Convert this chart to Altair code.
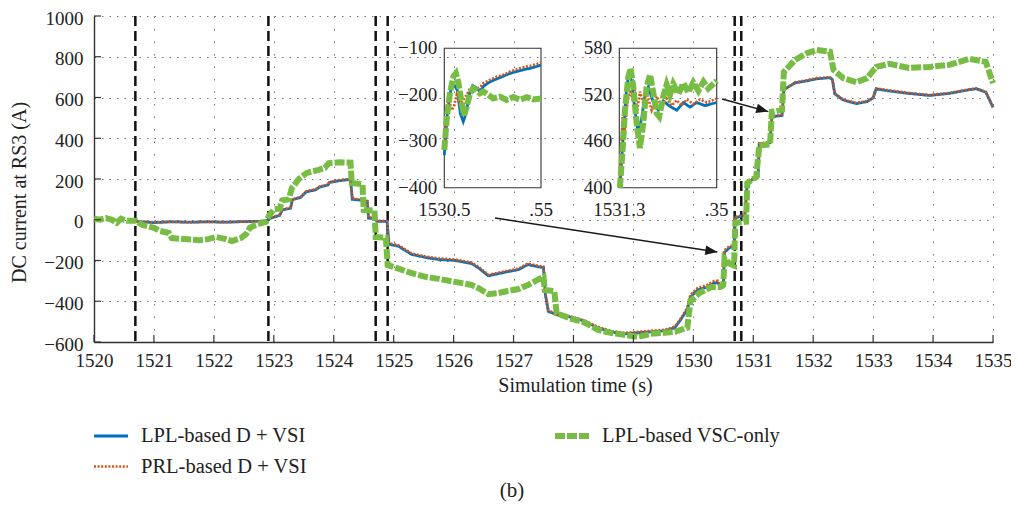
import math
import altair as alt
import pandas as pd

FONT = "Liberation Serif"

# legend order (column-major: col 1 = first two, col 2 = last)
SERIES = ["LPL-based D + VSI", "PRL-based D + VSI", "LPL-based VSC-only"]
COLORS = ["#0072BD", "#D95319", "#77BC43"]
DASHES = [[1, 0], [2, 1.6], [10, 2]]
LINE_WIDTHS = [2.8, 2.6, 6]

x_ticks = list(range(1520, 1536))
y_ticks = list(range(-600, 1001, 200))
caption = ["(b)"]

# ---- main traces ----
red_t = [1520.70, 1521.00, 1521.30, 1521.60, 1521.90, 1522.20, 1522.50, 1522.75, 1522.88, 1522.92,
         1523.10, 1523.14, 1523.28, 1523.31, 1523.45, 1523.54, 1523.70, 1523.76, 1523.90, 1523.93,
         1524.10, 1524.28, 1524.31, 1524.50, 1524.56, 1524.58, 1524.70, 1524.72, 1524.89, 1524.92,
         1525.08, 1525.30, 1525.53, 1525.75, 1526.03, 1526.30, 1526.41, 1526.58, 1526.74, 1526.90,
         1527.08, 1527.24, 1527.40, 1527.50, 1527.53, 1527.58, 1527.74, 1527.96, 1528.19, 1528.40,
         1528.62, 1528.85, 1529.07, 1529.29, 1529.52, 1529.69, 1529.79, 1529.90, 1529.95, 1530.07,
         1530.23, 1530.35, 1530.41, 1530.46, 1530.50, 1530.52, 1530.60, 1530.68, 1530.70, 1530.86,
         1530.90, 1531.03, 1531.08, 1531.10, 1531.28, 1531.31, 1531.48, 1531.51, 1531.70, 1531.90,
         1532.06, 1532.28, 1532.32, 1532.36, 1532.50, 1532.72, 1532.90, 1533.00, 1533.05, 1533.27,
         1533.60, 1533.94, 1534.27, 1534.60, 1534.72, 1534.88, 1535.00]
red_v = [-8, -12, -10, -13, -10, -12, -9, -8, -5, 8,
         25, 50, 60, 100, 112, 140, 150, 162, 172, 185,
         195, 200, 105, 97, 93, 12, 8, -5, -6, -115,
         -125, -165, -180, -190, -195, -210, -230, -270, -260, -250,
         -240, -215, -225, -230, -360, -445, -465, -475, -495, -525,
         -545, -555, -550, -545, -540, -525, -485, -430, -370, -335,
         -320, -300, -300, -330, -320, -150, -130, -125, 15, 25,
         180, 210, 215, 375, 380, 510, 515, 640, 675, 685,
         695, 700, 690, 620, 590, 573, 583, 600, 645, 635,
         622, 612, 622, 640, 645, 628, 555]

blue_t = red_t
blue_v = [-8, -14, -10, -12, -10, -12, -9, -8, -6, 5,
          22, 47, 57, 98, 110, 137, 147, 160, 170, 183,
          192, 198, 100, 95, 90, 8, 4, -8, -8, -120,
          -130, -170, -185, -195, -200, -215, -235, -275, -265, -255,
          -245, -220, -230, -235, -365, -450, -468, -478, -498, -530,
          -550, -560, -555, -550, -545, -530, -490, -440, -380, -345,
          -330, -310, -310, -335, -330, -160, -138, -130, 10, 22,
          178, 208, 212, 372, 378, 505, 512, 638, 672, 682,
          692, 697, 688, 618, 588, 570, 580, 598, 642, 632,
          620, 610, 620, 638, 643, 626, 552]

green_t = [1520.00, 1520.10, 1520.20, 1520.30, 1520.38, 1520.45, 1520.55, 1520.70, 1520.80, 1521.00,
           1521.10, 1521.25, 1521.30, 1521.50, 1521.76, 1521.90, 1522.04, 1522.20, 1522.30, 1522.45,
           1522.54, 1522.60, 1522.70, 1522.87, 1522.92, 1523.00, 1523.10, 1523.14, 1523.25, 1523.30,
           1523.42, 1523.55, 1523.75, 1523.85, 1523.92, 1524.10, 1524.28, 1524.30, 1524.48, 1524.50,
           1524.68, 1524.70, 1524.87, 1524.90, 1525.08, 1525.30, 1525.53, 1525.75, 1526.03, 1526.30,
           1526.41, 1526.58, 1526.74, 1526.90, 1527.08, 1527.24, 1527.40, 1527.50, 1527.52, 1527.68,
           1527.72, 1527.96, 1528.19, 1528.40, 1528.62, 1528.85, 1529.07, 1529.29, 1529.52, 1529.69,
           1529.90, 1529.95, 1530.10, 1530.30, 1530.45, 1530.50, 1530.52, 1530.60, 1530.68, 1530.70,
           1530.88, 1530.90, 1531.05, 1531.10, 1531.28, 1531.31, 1531.48, 1531.51, 1531.70, 1531.90,
           1532.06, 1532.28, 1532.34, 1532.50, 1532.72, 1532.90, 1533.05, 1533.27, 1533.60, 1533.94,
           1534.27, 1534.60, 1534.88, 1535.00]
green_v = [5, 0, 8, 0, -15, 5, -5, -5, -25, -40,
           -55, -65, -90, -95, -100, -95, -85, -95, -105, -90,
           -70, -40, -25, -10, 20, 50, 55, 95, 100, 155,
           200, 230, 245, 255, 278, 282, 280, 180, 175, 48,
           45, -85, -88, -222, -240, -262, -280, -290, -305, -320,
           -335, -365, -360, -350, -340, -320, -295, -280, -345, -350,
           -460, -485, -505, -540, -555, -565, -575, -560, -555, -550,
           -530, -400, -360, -330, -330, -320, -190, -215, -225, -15,
           -10, 180, 210, 365, 370, 530, 540, 725, 785, 818,
           833, 825, 735, 695, 675, 695, 750, 765, 745, 750,
           760, 790, 775, 670]

event_t = [1520.69, 1522.91, 1524.70, 1524.90, 1530.69, 1530.80]

# annotation arrows (data units of main axes)
arrow_t0 = [1526.69, 1530.48]
arrow_v0 = [8.6, 592.6]
arrow_t1 = [1530.40, 1531.25]
arrow_v1 = [-158.0, 531.0]

# ---- inset 1 ----
in1_xdom = [1530.5, 1530.55]
in1_ydom = [-400, -100]
in1_yvals = [-100, -200, -300, -400]
in1_ytext = ["\u2212100", "\u2212200", "\u2212300", "\u2212400"]
in1_xvals = [1530.5, 1530.55]
in1_xtext = ["1530.5", ".55"]
in1_green_t = [1530.5000, 1530.5012, 1530.5029, 1530.5047, 1530.5060, 1530.5072, 1530.5090, 1530.5102,
               1530.5116, 1530.5133, 1530.5150, 1530.5167, 1530.5184, 1530.5202, 1530.5228, 1530.5253,
               1530.5288, 1530.5322, 1530.5357, 1530.5391, 1530.5426, 1530.5460, 1530.5500]
in1_green_v = [-319, -254, -197, -161, -154, -172, -218, -244,
               -226, -197, -186, -190, -197, -193, -200, -208,
               -204, -211, -205, -211, -205, -210, -208]
in1_red_t = [1530.5000, 1530.5012, 1530.5024, 1530.5038, 1530.5050, 1530.5064, 1530.5081, 1530.5098,
             1530.5116, 1530.5133, 1530.5159, 1530.5184, 1530.5202, 1530.5236, 1530.5271, 1530.5305,
             1530.5340, 1530.5374, 1530.5409, 1530.5443, 1530.5478, 1530.5500]
in1_red_v = [-319, -226, -208, -233, -226, -200, -222, -211,
             -200, -186, -190, -184, -175, -168, -161, -157,
             -150, -145, -141, -138, -134, -131]
in1_blue_t = [1530.5000, 1530.5016, 1530.5033, 1530.5050, 1530.5067, 1530.5083, 1530.5098, 1530.5112,
              1530.5129, 1530.5147, 1530.5167, 1530.5184, 1530.5202, 1530.5236, 1530.5271, 1530.5305,
              1530.5340, 1530.5374, 1530.5409, 1530.5443, 1530.5478, 1530.5500]
in1_blue_v = [-330, -240, -190, -178, -190, -240, -258, -240,
              -200, -180, -185, -193, -182, -172, -166, -160,
              -154, -150, -146, -143, -139, -136]

# ---- inset 2 ----
in2_xdom = [1531.3, 1531.35]
in2_ydom = [400, 580]
in2_yvals = [580, 520, 460, 400]
in2_ytext = ["580", "520", "460", "400"]
in2_xvals = [1531.3, 1531.35]
in2_xtext = ["1531.3", ".35"]
in2_green_t = [1531.3003, 1531.3017, 1531.3029, 1531.3046, 1531.3058, 1531.3072, 1531.3089, 1531.3106,
               1531.3123, 1531.3140, 1531.3158, 1531.3175, 1531.3192, 1531.3205, 1531.3226, 1531.3243,
               1531.3260, 1531.3277, 1531.3303, 1531.3329, 1531.3354, 1531.3380, 1531.3406, 1531.3432,
               1531.3457, 1531.3500]
in2_green_v = [400, 449, 500, 543, 554, 530, 483, 451,
               483, 530, 546, 522, 496, 492, 518, 533,
               520, 534, 521, 535, 523, 536, 525, 537,
               528, 538]
in2_red_t = [1531.3003, 1531.3007, 1531.3017, 1531.3029, 1531.3041, 1531.3055, 1531.3068, 1531.3080,
             1531.3092, 1531.3106, 1531.3123, 1531.3140, 1531.3166, 1531.3192, 1531.3217, 1531.3243,
             1531.3269, 1531.3295, 1531.3320, 1531.3346, 1531.3380, 1531.3414, 1531.3449, 1531.3500]
in2_red_v = [400, 436, 492, 475, 509, 526, 513, 526,
             500, 524, 509, 522, 500, 518, 505, 515,
             506, 513, 506, 514, 508, 514, 510, 515]
in2_blue_t = [1531.3003, 1531.3021, 1531.3038, 1531.3051, 1531.3065, 1531.3080, 1531.3097, 1531.3115,
              1531.3132, 1531.3149, 1531.3175, 1531.3200, 1531.3226, 1531.3260, 1531.3295, 1531.3329,
              1531.3363, 1531.3397, 1531.3440, 1531.3500]
in2_blue_v = [400, 470, 530, 550, 535, 500, 470, 490,
              520, 530, 510, 500, 512, 505, 500, 510,
              504, 510, 506, 510]

W, H = 899, 326
X_DOM = [1520, 1535]
Y_DOM = [-600, 1000]

BLUE, RED, GREEN = SERIES[0], SERIES[1], SERIES[2]


def long_df(parts):
    rows = []
    for name, ts, vs in parts:
        for i, (t, v) in enumerate(zip(ts, vs)):
            rows.append({"t": t, "v": v, "s": name, "i": i})
    return pd.DataFrame(rows)


LEG = alt.Legend(
    title=None, orient="none", legendX=-3, legendY=400, direction="vertical", columns=2,
    columnPadding=236, rowPadding=-4, symbolType="stroke", symbolSize=1156,
    symbolStrokeWidth=3.4, labelFont=FONT, labelFontSize=20.5, labelColor="#222",
    labelOffset=10, labelLimit=400, padding=0,
)
COLOR = alt.Color("s:N", scale=alt.Scale(domain=SERIES, range=COLORS), legend=LEG)
DASH = alt.StrokeDash("s:N", scale=alt.Scale(domain=SERIES, range=DASHES), legend=LEG)
SWIDTH = alt.StrokeWidth("s:N", scale=alt.Scale(type="ordinal", domain=SERIES, range=LINE_WIDTHS),
                         legend=None)
DRAW_ORDER = [BLUE, RED, GREEN]


def series_layers(df, X, Y):
    out = []
    for name in DRAW_ORDER:
        out.append(
            alt.Chart(df).transform_filter(alt.datum.s == name)
            .mark_line()
            .encode(x=X, y=Y, color=COLOR, strokeDash=DASH, strokeWidth=SWIDTH, order="i:Q")
        )
    return out


# ---------- main panel ----------
XS = alt.Scale(domain=X_DOM, nice=False, zero=False)
YS = alt.Scale(domain=Y_DOM, nice=False, zero=False)
X = alt.X("t:Q", scale=XS,
          axis=alt.Axis(values=x_ticks, format="d", title="Simulation time (s)",
                        labelPadding=9, titlePadding=5, titleX=481, labelFlush=False,
                        labelOverlap=False, gridDash=[1.5, 11]))
Y = alt.Y("v:Q", scale=YS,
          axis=alt.Axis(values=y_ticks, format="d", title="DC current at RS3 (A)",
                        labelPadding=11, titlePadding=14, titleY=176, labelFlush=False,
                        labelOffset=2, gridDash=[1.5, 6]))

main_df = long_df([(BLUE, blue_t, blue_v), (RED, red_t, red_v), (GREEN, green_t, green_v)])

events = alt.Chart(pd.DataFrame({"t": event_t})).mark_rule(
    color="#111", strokeWidth=2.5, strokeDash=[10, 5]).encode(x=X)

sx = W / (X_DOM[1] - X_DOM[0])
sy = H / (Y_DOM[1] - Y_DOM[0])
arrow_angle = [math.degrees(math.atan2(-(v1 - v0) * sy, (t1 - t0) * sx))
               for t0, v0, t1, v1 in zip(arrow_t0, arrow_v0, arrow_t1, arrow_v1)]
arr_df = pd.DataFrame({"t": arrow_t0, "v": arrow_v0, "t2": arrow_t1, "v2": arrow_v1})
head_df = pd.DataFrame({"t": arrow_t1, "v": arrow_v1, "ang": arrow_angle})
arrow_lines = alt.Chart(arr_df).mark_rule(color="#1a1a1a", strokeWidth=1.4).encode(
    x=X, y=Y, x2="t2:Q", y2="v2:Q")
arrow_heads = alt.Chart(head_df).mark_point(
    shape="M0,0L-2,-0.8L-2,0.8Z", filled=True, size=144, color="#1a1a1a", opacity=1
).encode(x=X, y=Y, angle=alt.Angle("ang:Q", scale=None))

xt = alt.Chart(pd.DataFrame({"t": x_ticks})).mark_rule(color="#333", strokeWidth=1.2).encode(
    x=X, y=alt.value(H), y2=alt.value(H - 7))
yt = alt.Chart(pd.DataFrame({"v": y_ticks})).mark_rule(color="#333", strokeWidth=1.2).encode(
    y=Y, x=alt.value(0), x2=alt.value(7))

cap = alt.Chart(pd.DataFrame({"lab": caption})).mark_text(
    font=FONT, fontSize=21, color="#222", align="center", baseline="middle"
).encode(text="lab:N", x=alt.value(418), y=alt.value(475))

main = alt.layer(events, *series_layers(main_df, X, Y),
                 arrow_lines, arrow_heads, xt, yt, cap)


# ---------- insets ----------
def inset(parts, xdom, xrange, ydom, yrange, yvals, ytext, xvals, xtext):
    xs = alt.Scale(domain=xdom, range=xrange, nice=False, zero=False)
    ys = alt.Scale(domain=ydom, range=yrange, nice=False, zero=False)
    IX = alt.X("t:Q", scale=xs, axis=None)
    IY = alt.Y("v:Q", scale=ys, axis=None)
    box = alt.Chart(pd.DataFrame({"t": [xdom[0]], "t2": [xdom[1]], "v": [ydom[0]], "v2": [ydom[1]]})
                    ).mark_rect(filled=False, stroke="#333", strokeWidth=1.1).encode(
        x=IX, x2="t2:Q", y=IY, y2="v2:Q")
    df = long_df(parts)
    ylab = alt.Chart(pd.DataFrame({"v": yvals, "lab": ytext, "t": [xdom[0]] * len(yvals)})).mark_text(
        align="right", baseline="middle", dx=-7, font=FONT, fontSize=19, color="#222").encode(
        x=IX, y=IY, text="lab:N")
    xlab = alt.Chart(pd.DataFrame({"t": xvals, "lab": xtext, "v": [ydom[0]] * len(xvals)})).mark_text(
        align="center", baseline="middle", dy=22, font=FONT, fontSize=19, color="#222").encode(
        x=IX, y=IY, text="lab:N")
    return alt.layer(box, *series_layers(df, IX, IY), ylab, xlab)


ins1 = inset([(BLUE, in1_blue_t, in1_blue_v), (RED, in1_red_t, in1_red_v),
              (GREEN, in1_green_t, in1_green_v)],
             in1_xdom, [350.3, 447.0], in1_ydom, [171.7, 32.3],
             in1_yvals, in1_ytext, in1_xvals, in1_xtext)
ins2 = inset([(BLUE, in2_blue_t, in2_blue_v), (RED, in2_red_t, in2_red_v),
              (GREEN, in2_green_t, in2_green_v)],
             in2_xdom, [525.3, 622.7], in2_ydom, [171.7, 32.3],
             in2_yvals, in2_ytext, in2_xvals, in2_xtext)

chart = alt.layer(main, ins1, ins2).resolve_scale(
    x="independent", y="independent"
).properties(
    width=W, height=H,
    background="white",
    autosize=alt.AutoSizeParams(type="none"),
    padding={"left": 86, "top": 8, "right": 18, "bottom": 163},
).configure_view(stroke=None).configure_axis(
    domainColor="#333", domainWidth=1.4, ticks=False, tickSize=0,
    labelFont=FONT, labelFontSize=19, labelColor="#222",
    titleFont=FONT, titleFontSize=20, titleFontWeight="normal", titleColor="#222",
    gridColor="#777", gridWidth=1, gridOpacity=1,
)

chart.save("out.html", embed_options={"renderer": "svg", "actions": False})
